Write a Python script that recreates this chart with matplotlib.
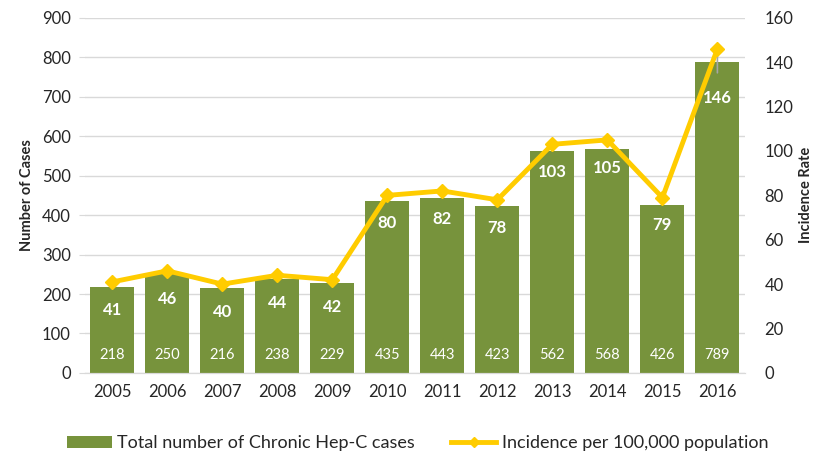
import numpy as np
import matplotlib.pyplot as plt

# Chronic Hep-C cases and incidence by year
years = ['2005', '2006', '2007', '2008', '2009', '2010',
         '2011', '2012', '2013', '2014', '2015', '2016']
cases = [218, 250, 216, 238, 229, 435, 443, 423, 562, 568, 426, 789]
incidence = [41, 46, 40, 44, 42, 80, 82, 78, 103, 105, 79, 146]

plt.rcParams['font.family'] = ['Lato', 'DejaVu Sans']
green = '#77933c'
gold = '#ffcc00'
grey_txt = '#262626'

fig = plt.figure(figsize=(8.15, 4.57), dpi=100)
ax = fig.add_axes([0.104, 0.184, 0.81, 0.777])
ax2 = ax.twinx()

x = np.arange(len(years))
ax.bar(x, cases, width=0.8, color=green, zorder=2,
       label='Total number of Chronic Hep-C cases')
ax.set_xlim(-0.5, len(years) - 0.5)
ax.set_ylim(0, 900)
ax.set_yticks(np.arange(0, 901, 100))
ax.set_xticks(x)
ax.set_xticklabels(years)
ax.grid(axis='y', color='#d9d9d9', linewidth=1, zorder=0)
ax.set_axisbelow(True)

for xi, c in zip(x, cases):
    ax.text(xi, 45, str(c), ha='center', va='center', color='white',
            fontsize=10.5, zorder=4)

ax2.plot(x, incidence, color=gold, linewidth=3.5, marker='D',
         markersize=7, zorder=5, label='Incidence per 100,000 population')
ax2.set_ylim(0, 160)
ax2.set_yticks(np.arange(0, 161, 20))

for xi, v in zip(x, incidence):
    if v == max(incidence):
        ax2.annotate(str(v), (xi, v), xytext=(0, -35),
                     textcoords='offset points', ha='center', va='center',
                     color='white', fontsize=12, fontweight='bold',
                     arrowprops=dict(arrowstyle='-', color='#a6a6a6',
                                     lw=1.2, shrinkA=10, shrinkB=2))
    else:
        ax2.annotate(str(v), (xi, v), xytext=(0, -20),
                     textcoords='offset points', ha='center', va='center',
                     color='white', fontsize=12, fontweight='bold')

for a in (ax, ax2):
    for s in ['top', 'left', 'right']:
        a.spines[s].set_visible(False)
    a.spines['bottom'].set_color('#d9d9d9')
    a.tick_params(labelsize=12, colors=grey_txt, length=0)
ax.tick_params(axis='y', length=4, color='#d9d9d9', pad=6)
ax2.tick_params(axis='y', length=0, pad=14)
ax.tick_params(axis='x', pad=8)

ax.set_ylabel('Number of Cases', fontsize=10.5, fontweight='bold',
              color=grey_txt, labelpad=6)
ax2.set_ylabel('Incidence Rate', fontsize=10.5, fontweight='bold',
               color=grey_txt, labelpad=4)

h1, l1 = ax.get_legend_handles_labels()
h2, l2 = ax2.get_legend_handles_labels()
leg = fig.legend(h1 + h2, l1 + l2, loc='center', ncol=2, frameon=False,
                 fontsize=13, bbox_to_anchor=(0.512, 0.03), handlelength=2.5,
                 columnspacing=2.0, handletextpad=0.3, labelcolor=grey_txt)
leg.legend_handles[1].set_markersize(5)

fig.savefig('out.png', dpi=100)
